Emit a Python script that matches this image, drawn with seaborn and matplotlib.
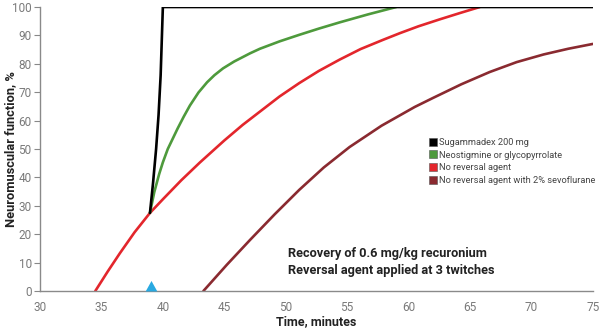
import matplotlib
matplotlib.use("Agg")
import matplotlib.pyplot as plt
from matplotlib.lines import Line2D
from matplotlib.path import Path
import seaborn as sns
import pandas as pd

# ---- data ----
sug_x = [38.95, 39.2, 39.45, 39.65, 39.82, 40.0, 75.0]
sug_y = [27.5, 38.0, 50.0, 62.0, 76.0, 100.0, 100.0]

neo_x = [38.95, 39.3, 39.7, 40.0, 40.4, 41.2, 41.7, 42.2, 42.9, 43.6, 44.2,
         44.9, 45.8, 47.1, 47.9, 49.5, 51.1, 52.7, 54.4, 56.7, 59.0]
neo_y = [27.5, 34.8, 41.2, 45.3, 50.0, 57.2, 61.4, 65.3, 69.9, 73.5, 76.0,
         78.4, 80.8, 83.7, 85.3, 87.9, 90.2, 92.4, 94.6, 97.4, 100.0]

none_x = [34.5, 35.5, 36.5, 37.7, 38.95, 40.0, 41.5, 43.0, 45.0, 46.5, 48.0,
          49.5, 51.1, 52.7, 54.4, 56.1, 57.9, 59.3, 60.8, 62.5, 64.2, 65.8]
none_y = [0.0, 6.8, 13.3, 20.7, 27.5, 32.3, 39.0, 45.2, 53.0, 58.5, 63.5,
          68.5, 73.2, 77.5, 81.5, 85.2, 88.4, 90.8, 93.2, 95.6, 97.9, 100.0]

sevo_x = [43.3, 45.2, 47.1, 49.1, 51.1, 53.1, 55.2, 57.8, 60.5, 62.0, 64.3,
          66.6, 68.8, 71.0, 73.0, 75.0]
sevo_y = [0.0, 9.2, 18.0, 27.0, 35.6, 43.5, 50.7, 58.2, 64.8, 68.0, 72.8,
          77.1, 80.6, 83.3, 85.3, 87.0]

marker_x = [39.0]
marker_y = [0.0]

series_names = ["Sugammadex 200 mg", "Neostigmine or glycopyrrolate",
                "No reversal agent", "No reversal agent with 2% sevoflurane"]
series_colors = ["#000000", "#4e9a3c", "#e3262c", "#8a2a30"]

xticks = [30, 35, 40, 45, 50, 55, 60, 65, 70, 75]
yticks = [0, 10, 20, 30, 40, 50, 60, 70, 80, 90, 100]

annotation = "Recovery of 0.6 mg/kg recuronium\nReversal agent applied at 3 twitches"

# ---- build table ----
frames = []
for name, xs, ys in zip(series_names, [sug_x, neo_x, none_x, sevo_x],
                        [sug_y, neo_y, none_y, sevo_y]):
    frames.append(pd.DataFrame({"time": xs, "nmf": ys, "series": name}))
df = pd.concat(frames, ignore_index=True)

sns.set_theme(style="white")
plt.rcParams["font.family"] = ["Roboto", "DejaVu Sans"]

fig = plt.figure(figsize=(6.0, 3.34), dpi=100)
ax = fig.add_axes([0.0667, 0.1287, 0.9213, 0.8503])

# draw back-to-front: sevo, none, neo, sug
for name, col in list(zip(series_names, series_colors))[::-1]:
    sub = df[df["series"] == name]
    sns.lineplot(data=sub, x="time", y="nmf", sort=False, color=col,
                 linewidth=1.9, ax=ax, legend=False, estimator=None)

tri = Path([(-0.5, 0.0), (0.5, 0.0), (0.0, 0.9), (-0.5, 0.0)],
           [Path.MOVETO, Path.LINETO, Path.LINETO, Path.CLOSEPOLY])
ax.scatter(marker_x, marker_y, marker=tri, s=230, color="#29a9e1",
           clip_on=False, zorder=5, linewidths=0)

ax.set_xlim(30, 75)
ax.set_ylim(0, 100)
ax.set_xticks(xticks)
ax.set_yticks(yticks)
ax.tick_params(axis="x", length=0, pad=7, labelsize=8.5, labelcolor="#7a7a7a")
ax.tick_params(axis="y", length=4, width=0.8, color="#888888", pad=2,
               labelsize=8.5, labelcolor="#7a7a7a", left=True)
for s in ["top", "right"]:
    ax.spines[s].set_visible(False)
for s in ["left", "bottom"]:
    ax.spines[s].set_color("#8a8a8a")
    ax.spines[s].set_linewidth(1.0)

ax.set_xlabel("Time, minutes", fontsize=9, fontweight="bold", color="#222222")
ax.set_ylabel("Neuromuscular function, %", fontsize=9.3, fontweight="bold",
              color="#222222")
ax.xaxis.set_label_coords(0.5, -0.109)
ax.yaxis.set_label_coords(-0.054, 0.5)
ax.xaxis.label.set_va("center")
ax.yaxis.label.set_va("center")

handles = [Line2D([], [], marker="s", linestyle="none", markersize=6,
                  markerfacecolor=c, markeredgecolor="#555555",
                  markeredgewidth=0.4) for c in series_colors]
leg = ax.legend(handles, series_names, loc="upper left",
                bbox_to_anchor=(0.695, 0.552), frameon=False, fontsize=6.7,
                handletextpad=0.15, labelspacing=0.4, borderaxespad=0,
                handlelength=1.0)
for t in leg.get_texts():
    t.set_color("#444444")

ax.text(0.448, 0.102, annotation, transform=ax.transAxes, fontsize=9.2,
        fontweight="bold", color="#222222", va="center", ha="left",
        linespacing=1.4)

fig.savefig("out.png", dpi=100)
